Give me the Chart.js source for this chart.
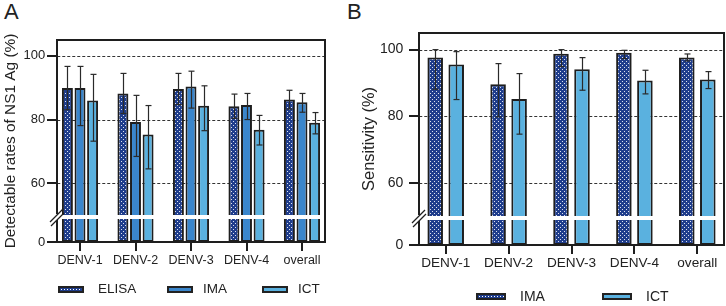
<!DOCTYPE html>
<html>
<head>
<meta charset="utf-8">
<script src="https://cdn.jsdelivr.net/npm/chart.js@4.4.0/dist/chart.umd.min.js"></script>
<style>
body{margin:0;width:726px;height:306px;overflow:hidden;background:#fff;position:relative;font-family:"Liberation Sans",Arial,sans-serif;color:#222}
canvas{position:absolute;top:0}
#cA{left:0}
#cB{left:345px}
.panel{position:absolute;top:-1px;font-size:22px;line-height:26px}
.sw{position:absolute;height:7px;border:2px solid #222;box-sizing:border-box}
.lt{position:absolute;line-height:16px}
.dot{background-color:#1f3d8c;background-image:radial-gradient(circle,#fff 0.7px,transparent 1px);background-size:3px 3px}
</style>
</head>
<body>
<div class="panel" style="left:4px">A</div>
<div class="panel" style="left:347px">B</div>
<canvas id="cA" width="345" height="306"></canvas>
<canvas id="cB" width="395" height="306"></canvas>

<div class="sw dot" style="left:58px;top:286px;width:26px"></div>
<div class="lt" style="left:98px;top:281px;font-size:13.5px">ELISA</div>
<div class="sw" style="left:167px;top:286px;width:26px;background:#3a86cc"></div>
<div class="lt" style="left:203px;top:281px;font-size:13.5px">IMA</div>
<div class="sw" style="left:262px;top:286px;width:26px;background:#5ab1df"></div>
<div class="lt" style="left:298px;top:281px;font-size:13.5px">ICT</div>

<div class="sw dot" style="left:476px;top:293px;width:30px"></div>
<div class="lt" style="left:520px;top:288px;font-size:14px">IMA</div>
<div class="sw" style="left:602px;top:293px;width:30px;background:#5ab1df"></div>
<div class="lt" style="left:646px;top:288px;font-size:14px">ICT</div>

<script>
// categorias y valores (%)
const categorias = ['DENV-1', 'DENV-2', 'DENV-3', 'DENV-4', 'overall'];
const yTicks = [0, 60, 80, 100];
const gridValores = [60, 80, 100];

// panel A: tasas detectables
const elisaA   = [89.9, 88.2, 89.6, 84.2, 86.3];
const elisaAHi = [96.7, 94.5, 94.5, 88.0, 89.2];
const elisaALo = [83.1, 81.9, 84.7, 80.4, 83.3];
const imaA     = [89.9, 79.2, 90.4, 84.6, 85.4];
const imaAHi   = [96.7, 87.6, 95.2, 88.2, 88.2];
const imaALo   = [78.1, 68.4, 83.6, 80.0, 82.3];
const ictA     = [86.0, 75.3, 84.3, 76.8, 79.0];
const ictAHi   = [94.2, 84.4, 90.6, 81.3, 82.2];
const ictALo   = [73.2, 64.5, 76.5, 72.0, 75.5];

// panel B: sensibilidad
const imaB     = [97.6, 89.6, 98.8, 99.1, 97.6];
const imaBHi   = [100, 95.8, 100, 99.8, 98.7];
const imaBLo   = [88.1, 79.8, 94.9, 97.3, 96.6];
const ictB     = [95.5, 85.2, 94.1, 90.7, 91.0];
const ictBHi   = [99.4, 92.8, 97.6, 93.8, 93.4];
const ictBLo   = [85.0, 74.6, 87.8, 86.7, 88.3];

const NAVY = '#1f3d8c', MEDIO = '#3a86cc', CLARO = '#5ab1df', TINTA = '#1e1e1e';
const INSET = 5;

Chart.defaults.font.family = "'Liberation Sans', Arial, sans-serif";
Chart.defaults.font.size = 13;
Chart.defaults.color = '#222';

// eje y cortado (0 abajo, 50-105 arriba)
class BrokenLinear extends Chart.LinearScale {
    getPixelForValue(value) {
        const b = this.options.brk;
        const low = this.bottom - b.lowPx;
        const high = low - b.gapPx;
        if (value <= b.lo) return this.bottom - (value / b.lo) * b.lowPx;
        if (value < b.hi) return low - (value - b.lo) / (b.hi - b.lo) * b.gapPx;
        return high - (value - b.hi) / (this.max - b.hi) * (high - this.top);
    }
    getValueForPixel(pixel) {
        const b = this.options.brk;
        const low = this.bottom - b.lowPx;
        const high = low - b.gapPx;
        if (pixel >= low) return (this.bottom - pixel) / b.lowPx * b.lo;
        if (pixel >= high) return b.lo + (low - pixel) / b.gapPx * (b.hi - b.lo);
        return b.hi + (high - pixel) / (high - this.top) * (this.max - b.hi);
    }
}
BrokenLinear.id = 'brokenLinear';
BrokenLinear.defaults = Chart.LinearScale.defaults;
Chart.register(BrokenLinear);

function patron(canvasId) {
    const tile = document.createElement('canvas');
    tile.width = 4; tile.height = 4;
    const g = tile.getContext('2d');
    g.fillStyle = NAVY; g.fillRect(0, 0, 4, 4);
    g.fillStyle = 'rgba(255,255,255,0.85)';
    g.fillRect(1, 1, 1, 1); g.fillRect(3, 3, 1, 1);
    return document.getElementById(canvasId).getContext('2d').createPattern(tile, 'repeat');
}

function linea(ctx, x1, y1, x2, y2) {
    ctx.beginPath(); ctx.moveTo(x1, y1); ctx.lineTo(x2, y2); ctx.stroke();
}

const decorado = {
    id: 'decorado',
    beforeDatasetsDraw(chart) {
        const ctx = chart.ctx, a = chart.chartArea, y = chart.scales.y;
        const L = a.left + INSET, R = a.right - INSET;
        ctx.save();
        ctx.strokeStyle = '#333'; ctx.lineWidth = 1; ctx.setLineDash([3, 2]);
        gridValores.forEach(v => {
            const py = Math.round(y.getPixelForValue(v)) + 0.5;
            linea(ctx, L, py, R, py);
        });
        ctx.restore();
    },
    afterDatasetsDraw(chart) {
        const ctx = chart.ctx, a = chart.chartArea, y = chart.scales.y, x = chart.scales.x;
        const L = Math.round(a.left + INSET), R = Math.round(a.right - INSET);
        const b = y.options.brk;
        ctx.save();

        // barras de error
        ctx.strokeStyle = '#2a2a2a'; ctx.lineWidth = 1.2;
        chart.data.datasets.forEach((ds, i) => {
            chart.getDatasetMeta(i).data.forEach((bar, j) => {
                const t = y.getPixelForValue(ds.errHi[j]);
                const d = y.getPixelForValue(ds.errLo[j]);
                const bx = Math.round(bar.x) + 0.5;
                linea(ctx, bx, t, bx, d);
                linea(ctx, bx - 3, t, bx + 3, t);
                linea(ctx, bx - 3, d, bx + 3, d);
            });
        });

        // banda blanca del corte
        const gTop = y.getPixelForValue(b.hi), gBot = y.getPixelForValue(b.lo);
        ctx.fillStyle = '#fff';
        ctx.fillRect(L + 1, gTop, R - L - 2, gBot - gTop);

        // marco
        ctx.strokeStyle = TINTA; ctx.lineWidth = 2;
        linea(ctx, L - 1, a.top, R + 1, a.top);
        linea(ctx, R, a.top, R, a.bottom);
        linea(ctx, L - 10, a.bottom, R + 1, a.bottom);
        linea(ctx, L, a.top, L, gTop - 1);
        linea(ctx, L, gBot + 1, L, a.bottom);

        // marcas de ticks
        yTicks.forEach(v => {
            const py = Math.round(y.getPixelForValue(v));
            linea(ctx, L - 10, py, L, py);
        });
        categorias.forEach((c, i) => {
            const px = Math.round(x.getPixelForValue(i));
            linea(ctx, px, a.bottom, px, a.bottom + 9);
        });

        // //
        const cy = (gTop + gBot) / 2;
        ctx.lineWidth = 1.3;
        linea(ctx, L - 7, cy + 5, L + 6, cy - 8);
        linea(ctx, L - 6, cy + 9, L + 7, cy - 4);
        ctx.restore();
    }
};

function opciones(cfg) {
    return {
        responsive: false,
        animation: false,
        layout: { padding: cfg.padding },
        plugins: { legend: { display: false }, tooltip: { enabled: false } },
        datasets: { bar: { categoryPercentage: cfg.catPct, barPercentage: cfg.barPct } },
        scales: {
            x: {
                afterFit: s => { s.height = cfg.xAlto; },
                grid: { display: false, drawTicks: false },
                border: { display: false },
                ticks: { padding: cfg.xPad, maxRotation: 0, autoSkip: false, font: { size: cfg.xFont } }
            },
            y: {
                type: 'brokenLinear',
                min: 0,
                max: 105,
                brk: cfg.brk,
                afterBuildTicks: s => { s.ticks = yTicks.map(v => ({ value: v })); },
                afterFit: s => { s.width = cfg.yAncho; },
                grid: { display: false, drawTicks: false },
                border: { display: false },
                ticks: { padding: cfg.yPad, font: { size: cfg.yFont } },
                title: {
                    display: true, text: cfg.titulo,
                    padding: { top: cfg.tPad, bottom: 0 },
                    font: { size: cfg.tFont }
                }
            }
        }
    };
}

function serie(label, data, hi, lo, color) {
    return {
        label: label, data: data, errHi: hi, errLo: lo,
        backgroundColor: color, borderColor: TINTA, borderWidth: 2, borderSkipped: false
    };
}

new Chart(document.getElementById('cA'), {
    type: 'bar',
    plugins: [decorado],
    data: {
        labels: categorias,
        datasets: [
            serie('ELISA', elisaA, elisaAHi, elisaALo, patron('cA')),
            serie('IMA', imaA, imaAHi, imaALo, MEDIO),
            serie('ICT', ictA, ictAHi, ictALo, CLARO)
        ]
    },
    options: opciones({
        padding: { left: 0, top: 40, right: 15.25, bottom: 0 },
        catPct: 0.68, barPct: 0.87, xAlto: 64, xPad: 11, xFont: 12.5,
        brk: { lo: 10, hi: 50, lowPx: 23, gapPx: 4 },
        yAncho: 52.25, yPad: 7, yFont: 13, tPad: 2, tFont: 15.4,
        titulo: 'Detectable rates of NS1 Ag (%)'
    })
});

new Chart(document.getElementById('cB'), {
    type: 'bar',
    plugins: [decorado],
    data: {
        labels: categorias,
        datasets: [
            serie('IMA', imaB, imaBHi, imaBLo, patron('cB')),
            serie('ICT', ictB, ictBHi, ictBLo, CLARO)
        ]
    },
    options: opciones({
        padding: { left: 0, top: 33, right: 11.25, bottom: 0 },
        catPct: 0.668, barPct: 0.74, xAlto: 61, xPad: 10, xFont: 13.6,
        brk: { lo: 10, hi: 50, lowPx: 25, gapPx: 4 },
        yAncho: 69.25, yPad: 11, yFont: 14, tPad: 15, tFont: 16.4,
        titulo: 'Sensitivity (%)'
    })
});
</script>
</body>
</html>
